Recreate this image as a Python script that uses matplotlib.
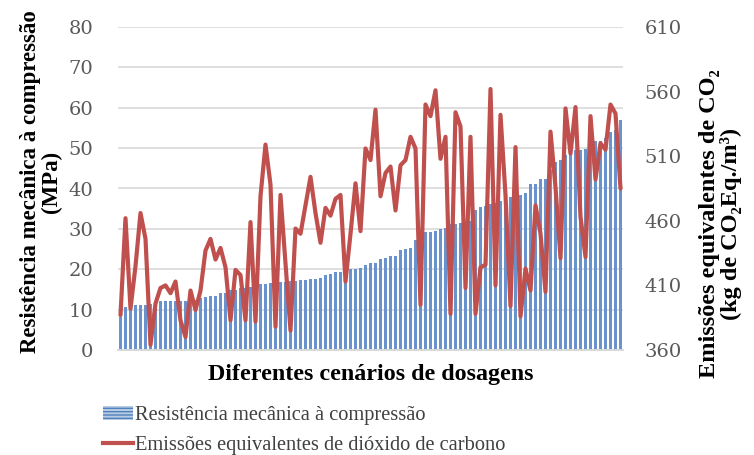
import matplotlib.pyplot as plt
from matplotlib.patches import Patch
from matplotlib.lines import Line2D
import numpy as np


# ==========================================================
#                       DONNÉES
# ==========================================================
# Resistência mecânica à compressão (MPa), um valor por cenário
resistencia = [
    8.2, 10.6, 11.1, 11.1, 11.1, 11.1, 11.5, 11.8, 12.1, 12.1,
    12.1, 12.1, 12.1, 12.1, 12.3, 12.5, 12.8, 13.2, 13.4, 13.4,
    14.0, 14.2, 14.9, 14.9, 15.3, 15.4, 15.5, 15.6, 16.3, 16.3,
    16.5, 16.6, 16.8, 16.9, 17.1, 17.2, 17.3, 17.3, 17.7, 17.7,
    17.9, 18.6, 18.8, 19.3, 19.3, 19.6, 20.0, 20.0, 20.3, 21.0,
    21.5, 21.5, 22.5, 22.9, 23.3, 23.3, 24.8, 25.0, 25.3, 27.2,
    28.3, 29.3, 29.3, 29.5, 29.9, 30.3, 31.1, 31.2, 31.5, 31.7,
    32.0, 34.6, 35.3, 35.6, 36.1, 36.3, 37.0, 37.5, 37.8, 38.2,
    38.5, 39.0, 41.2, 41.2, 42.3, 42.3, 44.5, 46.6, 47.0, 48.3,
    49.0, 49.5, 49.5, 49.9, 51.0, 51.8, 51.8, 52.4, 54.0, 54.5,
    57.0,
]

# Emissões equivalentes de CO2 (kg CO2 Eq./m3)
emissoes = [
    387, 462, 392, 425, 466, 446, 364, 396, 408, 410,
    404, 413, 383, 370, 406, 391, 406, 437, 446, 430,
    439, 424, 383, 422, 418, 383, 459, 382, 479, 519,
    488, 378, 480, 427, 375, 454, 450, 472, 494, 466,
    443, 470, 464, 477, 480, 413, 450, 489, 452, 516,
    507, 546, 479, 497, 502, 468, 503, 507, 525, 516,
    395, 550, 541, 561, 508, 525, 388, 544, 533, 408,
    525, 388, 424, 426, 562, 410, 542, 480, 394, 517,
    386, 423, 406, 472, 450, 405, 529, 486, 431, 547,
    512, 548, 463, 432, 541, 492, 520, 515, 550, 543,
    485,
]

left_ticks = [0, 10, 20, 30, 40, 50, 60, 70, 80]
right_ticks = [360, 410, 460, 510, 560, 610]

COR_BARRA = "#6a92cc"
COR_LINHA = "#c0504d"
COR_TEXTO = "#595959"
SERIF = ["Liberation Serif", "DejaVu Serif"]


# ==========================================================
#                       FIGURE
# ==========================================================
plt.rcParams["hatch.color"] = "#4f81bd"
fig = plt.figure(figsize=(7.54, 4.55), dpi=100)
ax = fig.add_axes([118 / 754, 1 - 350 / 455, 505 / 754, 323 / 455])
ax2 = ax.twinx()

x = np.arange(len(resistencia))

# barres (axe gauche)
ax.bar(x, resistencia, width=0.42, color=COR_BARRA, linewidth=0, zorder=2)
ax.set_xlim(-0.5, len(resistencia) - 0.5)
ax.set_ylim(0, 80)
ax.set_yticks(left_ticks)
ax.grid(True, axis="y", color="#d9d9d9", linewidth=1.2, zorder=0)
ax.set_axisbelow(True)
ax.set_xticks([])

# courbe (axe droit)
ax2.plot(x, emissoes, color=COR_LINHA, linewidth=3.0,
         solid_joinstyle="round", solid_capstyle="round", zorder=3)
ax2.set_ylim(360, 610)
ax2.set_yticks(right_ticks)

for a in (ax, ax2):
    for s in ("top", "left", "right"):
        a.spines[s].set_visible(False)
    a.spines["bottom"].set_color("#d9d9d9")
    a.spines["bottom"].set_linewidth(1.2)
    a.tick_params(axis="y", length=0, labelsize=14, labelcolor=COR_TEXTO)
    for lab in a.get_yticklabels():
        lab.set_family("DejaVu Serif")
ax.tick_params(axis="y", pad=18)
ax2.tick_params(axis="y", pad=15.5)

# ----------------- LABELS --------------------
ax.set_ylabel("Resistência mecânica à compressão\n(MPa)",
              family=SERIF, fontweight="bold", fontsize=16.5, linespacing=1.0)
ax.yaxis.set_label_coords(-0.111, 0.52)

ax2.set_ylabel("Emissões equivalentes de CO\u2082\n(kg de CO\u2082Eq./m\u00b3)",
               family=SERIF, fontweight="bold", fontsize=17.5,
               rotation=90, linespacing=1.0)
ax2.yaxis.set_label_coords(1.15, 0.39)

ax.set_xlabel("Diferentes cenários de dosagens",
              family=SERIF, fontweight="bold", fontsize=17.3)
ax.xaxis.set_label_coords(0.5, -0.043)
ax.xaxis.label.set_verticalalignment("top")

# ----------------- LÉGENDE --------------------
handles = [
    Patch(facecolor="#b8cce4", edgecolor="#4f81bd", hatch="-----", linewidth=0),
    Line2D([0], [0], color=COR_LINHA, linewidth=3.0),
]
labels = ["Resistência mecânica à compressão",
          "Emissões equivalentes de dióxido de carbono"]
leg = fig.legend(handles, labels, loc="upper left",
                 bbox_to_anchor=(103 / 754, 1 - 406 / 455),
                 frameon=False, handlelength=1.45, handletextpad=0.12,
                 labelspacing=0.5, borderaxespad=0, borderpad=0,
                 prop={"family": SERIF, "size": 14.7})
for t in leg.get_texts():
    t.set_color("#404040")

fig.savefig("out.png", dpi=100)
